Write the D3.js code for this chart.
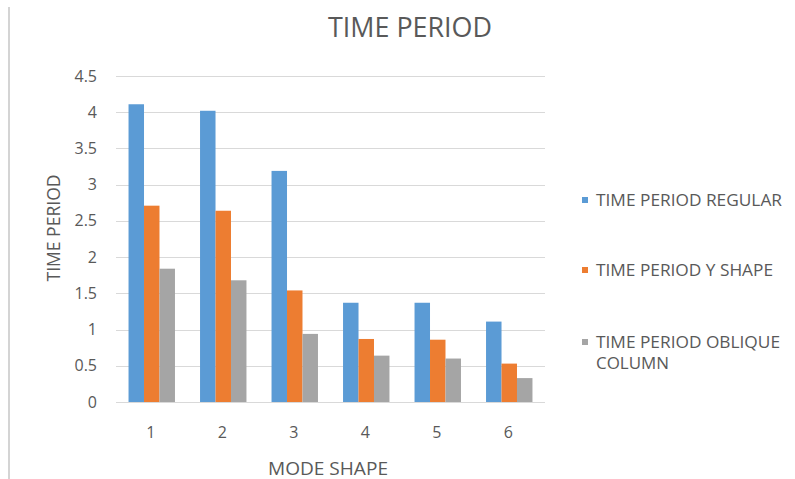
<!DOCTYPE html>
<html>
<head>
<meta charset="utf-8">
<script src="https://cdn.jsdelivr.net/npm/d3@7"></script>
<style>
  html, body { margin: 0; padding: 0; background: #fff; }
  svg { display: block; font-family: "Open Sans", sans-serif; }
</style>
</head>
<body>
<svg id="chart" width="795" height="479"></svg>
<script>
const categories = ["1", "2", "3", "4", "5", "6"];
const seriesNames = ["TIME PERIOD REGULAR", "TIME PERIOD Y SHAPE", "TIME PERIOD OBLIQUE COLUMN"];
const regular = [4.11, 4.02, 3.19, 1.37, 1.37, 1.11];
const yShape = [2.71, 2.64, 1.54, 0.87, 0.86, 0.53];
const oblique = [1.84, 1.68, 0.94, 0.64, 0.60, 0.33];
const yTicks = [0, 0.5, 1, 1.5, 2, 2.5, 3, 3.5, 4, 4.5];
const colors = ["#5b9bd5", "#ed7d31", "#a5a5a5"];
const seriesValues = [regular, yShape, oblique];

const svg = d3.select("#chart");
const textColor = "#595959";

// left border
svg.append("line").attr("x1", 9).attr("x2", 9).attr("y1", 7).attr("y2", 479)
  .attr("stroke", "#d4d4d4").attr("stroke-width", 2);

const plotLeft = 116, plotRight = 545, plotTop = 76, plotBottom = 402;
const y = d3.scaleLinear().domain([0, 4.5]).range([plotBottom, plotTop]);
const x0 = d3.scaleBand().domain(categories).range([plotLeft, plotRight]).padding(0);
const x1 = d3.scaleBand().domain(d3.range(3)).range([0, x0.bandwidth()]).paddingInner(0).paddingOuter(0.81);

// gridlines
svg.append("g").selectAll("line").data(yTicks).join("line")
  .attr("x1", plotLeft).attr("x2", plotRight)
  .attr("y1", d => Math.round(y(d)) + 0.5).attr("y2", d => Math.round(y(d)) + 0.5)
  .attr("stroke", "#d9d9d9").attr("stroke-width", 1);

// y tick labels
svg.append("g").selectAll("text").data(yTicks).join("text")
  .attr("x", 97).attr("y", d => y(d)).attr("dy", "0.35em")
  .attr("text-anchor", "end").attr("font-size", 16).attr("fill", textColor)
  .text(d => d);

// bars
const groups = svg.append("g").selectAll("g").data(categories).join("g")
  .attr("transform", c => `translate(${x0(c)},0)`);
groups.selectAll("rect").data((c, i) => seriesValues.map((s, k) => ({k, v: s[i]}))).join("rect")
  .attr("x", d => x1(d.k)).attr("width", x1.bandwidth())
  .attr("y", d => y(d.v)).attr("height", d => y(0) - y(d.v))
  .attr("fill", d => colors[d.k]);

// x tick labels
svg.append("g").selectAll("text").data(categories).join("text")
  .attr("x", c => x0(c) + x0.bandwidth() / 2 - 1).attr("y", 438)
  .attr("text-anchor", "middle").attr("font-size", 16).attr("fill", textColor)
  .text(c => c);

// title
svg.append("text").attr("x", 410).attr("y", 37).attr("text-anchor", "middle")
  .attr("font-size", 28).attr("fill", textColor)
  .attr("textLength", 164).attr("lengthAdjust", "spacingAndGlyphs")
  .text("TIME PERIOD");

// x axis title
svg.append("text").attr("x", 328).attr("y", 475).attr("text-anchor", "middle")
  .attr("font-size", 18).attr("fill", textColor)
  .attr("textLength", 120).attr("lengthAdjust", "spacingAndGlyphs")
  .text("MODE SHAPE");

// y axis title
svg.append("text").attr("transform", "translate(60,228) rotate(-90)").attr("text-anchor", "middle")
  .attr("font-size", 18).attr("fill", textColor)
  .attr("textLength", 107).attr("lengthAdjust", "spacingAndGlyphs")
  .text("TIME PERIOD");

// legend
const legendItems = [
  {lines: ["TIME PERIOD REGULAR"], widths: [186], y: 200},
  {lines: ["TIME PERIOD Y SHAPE"], widths: [177], y: 270},
  {lines: ["TIME PERIOD OBLIQUE", "COLUMN"], widths: [184, 73], y: 342}
];
const lg = svg.append("g");
legendItems.forEach((item, i) => {
  lg.append("rect").attr("x", 582).attr("y", item.y - 3).attr("width", 6).attr("height", 6)
    .attr("fill", colors[i]);
  item.lines.forEach((ln, j) => {
    lg.append("text").attr("x", 596).attr("y", item.y + 6 + j * 21)
      .attr("font-size", 17).attr("fill", textColor)
      .attr("textLength", item.widths[j]).attr("lengthAdjust", "spacingAndGlyphs")
      .text(ln);
  });
});
</script>
</body>
</html>
